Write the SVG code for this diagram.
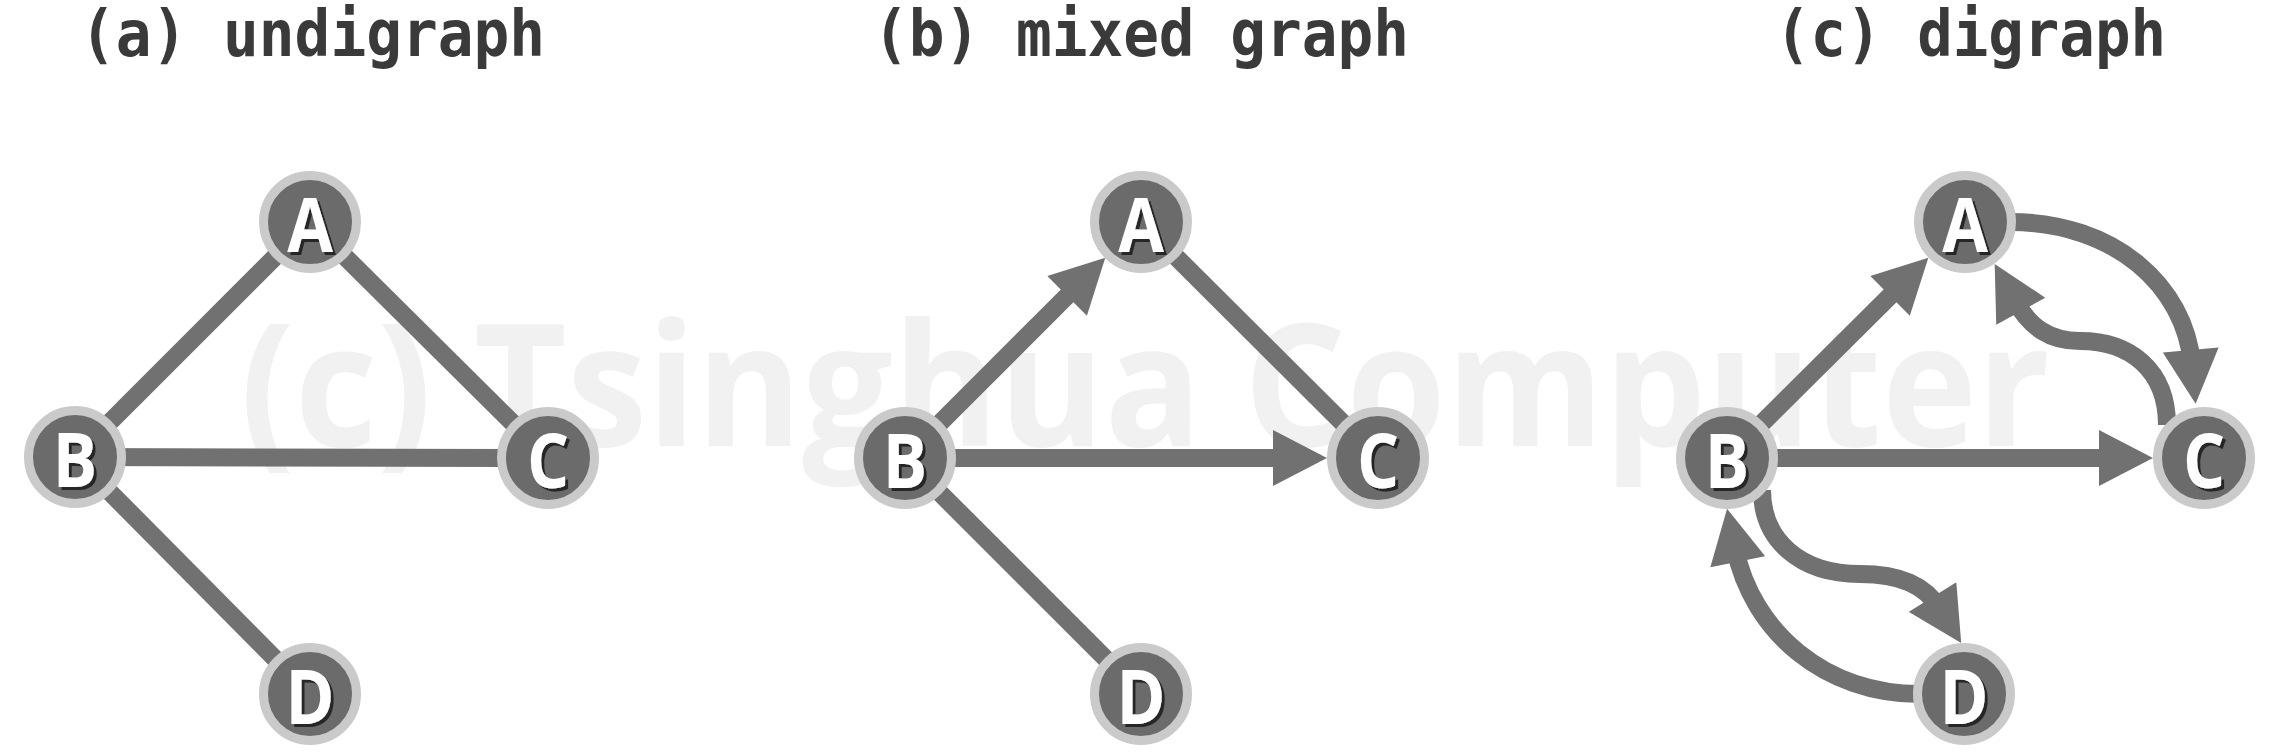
<svg xmlns="http://www.w3.org/2000/svg" width="2276" height="755" viewBox="0 0 2276 755">
<style>
.title{font-family:"DejaVu Sans Mono","Liberation Mono",monospace;font-weight:bold;font-size:64px;fill:#3a3a3a}
.wm{font-family:"Open Sans","Liberation Sans",sans-serif;font-weight:bold;font-size:171px;fill:#f1f1f1}
.edge{fill:none;stroke:#717171;stroke-width:18}
.node circle{fill:#6b6b6b;stroke:#cacaca;stroke-width:9}
.node text{font-family:"Open Sans","Liberation Sans",sans-serif;font-weight:bold;font-size:76px;text-anchor:middle;fill:#ffffff;filter:url(#sh)}
</style>
<defs>
<marker id="arr" markerUnits="userSpaceOnUse" markerWidth="56" markerHeight="56" viewBox="0 0 54 56" refX="14" refY="28" orient="auto">
<path d="M0,0 L54,28 L0,56 Z" fill="#717171"/>
</marker>
<filter id="sh" x="-30%" y="-30%" width="160%" height="160%">
<feOffset in="SourceAlpha" dx="3" dy="3" result="o"/>
<feFlood flood-color="#262626"/>
<feComposite in2="o" operator="in" result="s"/>
<feMerge><feMergeNode in="s"/><feMergeNode in="SourceGraphic"/></feMerge>
</filter>
</defs>
<rect width="2276" height="755" fill="#ffffff"/>
<g id="watermark">
<text class="wm" x="240" y="446" textLength="1810" lengthAdjust="spacingAndGlyphs">(c) Tsinghua Computer</text>
</g>
<g id="titles">
<text class="title" x="80" y="56" textLength="465" lengthAdjust="spacingAndGlyphs">(a) undigraph</text>
<text class="title" x="873" y="56" textLength="536" lengthAdjust="spacingAndGlyphs">(b) mixed graph</text>
<text class="title" x="1775" y="56" textLength="391" lengthAdjust="spacingAndGlyphs">(c) digraph</text>
</g>
<g id="connectors">
<line class="edge" x1="75" y1="457" x2="310" y2="222"/>
<line class="edge" x1="310" y1="222" x2="548" y2="458"/>
<line class="edge" x1="75" y1="457" x2="548" y2="458"/>
<line class="edge" x1="75" y1="457" x2="310" y2="694"/>
<line class="edge" x1="1141" y1="222" x2="1378" y2="458"/>
<line class="edge" x1="905" y1="458" x2="1141" y2="694"/>
<path class="edge" d="M905,458 L1077,286" marker-end="url(#arr)"/>
<path class="edge" d="M905,458 L1287,458" marker-end="url(#arr)"/>
<path class="edge" d="M1727,458 L1900,286" marker-end="url(#arr)"/>
<path class="edge" d="M1727,458 L2113,458" marker-end="url(#arr)"/>
<path class="edge" d="M2010,222 C2116,222 2185,287 2192,364" marker-end="url(#arr)"/>
<path class="edge" d="M2167,425 C2167,370 2130,341 2080,341 C2050,341 2030,328 2014,299" marker-end="url(#arr)"/>
<path class="edge" d="M1762,490 C1762,540 1800,574 1860,574 C1900,574 1925,585 1940,609" marker-end="url(#arr)"/>
<path class="edge" d="M1920,694 C1825,694 1752,632 1735,548" marker-end="url(#arr)"/>
</g>
<g id="a-A" class="node" transform="translate(310,222)"><circle r="46.5"/><text transform="translate(0,30) scale(0.87,1)">A</text></g>
<g id="a-B" class="node" transform="translate(75,457)"><circle r="46.5"/><text transform="translate(0,30) scale(0.87,1)">B</text></g>
<g id="a-C" class="node" transform="translate(548,458)"><circle r="46.5"/><text transform="translate(0,30) scale(0.87,1)">C</text></g>
<g id="a-D" class="node" transform="translate(310,694)"><circle r="46.5"/><text transform="translate(0,30) scale(0.87,1)">D</text></g>
<g id="b-A" class="node" transform="translate(1141,222)"><circle r="46.5"/><text transform="translate(0,30) scale(0.87,1)">A</text></g>
<g id="b-B" class="node" transform="translate(905,458)"><circle r="46.5"/><text transform="translate(0,30) scale(0.87,1)">B</text></g>
<g id="b-C" class="node" transform="translate(1378,458)"><circle r="46.5"/><text transform="translate(0,30) scale(0.87,1)">C</text></g>
<g id="b-D" class="node" transform="translate(1141,694)"><circle r="46.5"/><text transform="translate(0,30) scale(0.87,1)">D</text></g>
<g id="c-A" class="node" transform="translate(1965,222)"><circle r="46.5"/><text transform="translate(0,30) scale(0.87,1)">A</text></g>
<g id="c-B" class="node" transform="translate(1727,458)"><circle r="46.5"/><text transform="translate(0,30) scale(0.87,1)">B</text></g>
<g id="c-C" class="node" transform="translate(2204,458)"><circle r="46.5"/><text transform="translate(0,30) scale(0.87,1)">C</text></g>
<g id="c-D" class="node" transform="translate(1964,694)"><circle r="46.5"/><text transform="translate(0,30) scale(0.87,1)">D</text></g>
</svg>
